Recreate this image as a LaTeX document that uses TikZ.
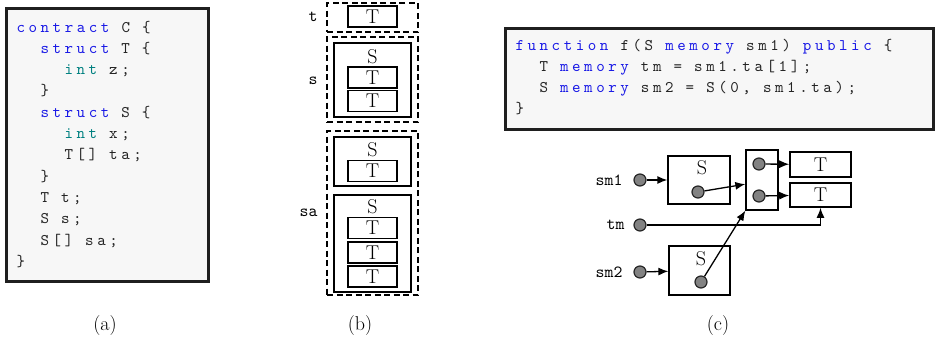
\documentclass[tikz,border=0pt]{standalone}
\usepackage{fontspec}
\usetikzlibrary{arrows.meta}
\newfontfamily\codefont{lmmono10-regular.otf}[LetterSpace=22]
\newfontfamily\lblfont{lmmono10-regular.otf}
\definecolor{kwblue}{RGB}{25,25,230}
\definecolor{tyteal}{RGB}{0,128,128}
\definecolor{codegray}{RGB}{35,35,35}
\definecolor{codebg}{RGB}{247,247,247}
\definecolor{dotgray}{RGB}{130,130,130}
\newcommand{\kw}[1]{\textcolor{kwblue}{#1}}
\newcommand{\ty}[1]{\textcolor{tyteal}{#1}}
\begin{document}
\begin{tikzpicture}[x=1pt,y=-1pt,line width=1pt,
  codebox/.style={draw=black!88,line width=2.6pt,fill=codebg},
  codeline/.style={anchor=base west,inner sep=0pt,text=codegray,font={\fontsize{16.2}{18}\codefont}},
  lbl/.style={inner sep=0pt,font={\fontsize{17}{19}\lblfont}},
  rmtext/.style={inner sep=0pt,font={\fontsize{20}{22}\selectfont}},
  grp/.style={draw,line width=1.8pt,dash pattern=on 6pt off 3.5pt,inner sep=0pt},
  sbox/.style={draw,line width=1.3pt,inner sep=0pt},
  tbox/.style={draw,line width=1.6pt,inner sep=0pt,minimum width=49,minimum height=21,font={\fontsize{20}{22}\selectfont}},
  dot/.style={circle,draw=black!85,fill=dotgray,line width=1.2pt,minimum size=12,inner sep=0pt},
  ptr/.style={-{Latex[length=10pt,width=8pt]},line width=1.3pt}]
\useasboundingbox (0,0) rectangle (935,341);
% (a) le contrat
\node[codebox,minimum width=202,minimum height=273,anchor=north west] (boxa) at (5,7) {};
\node[codeline] (a1) at (16,32) {\kw{contract} C \{};
\node[codeline] (a2) at (40,53.3) {\kw{struct} T \{};
\node[codeline] (a3) at (64,74.6) {\ty{int} z;};
\node[codeline] (a4) at (40,95.9) {\}};
\node[codeline] (a5) at (40,117.2) {\kw{struct} S \{};
\node[codeline] (a6) at (64,138.5) {\ty{int} x;};
\node[codeline] (a7) at (64,159.8) {T[] ta;};
\node[codeline] (a8) at (40,181.1) {\}};
\node[codeline] (a9) at (40,202.4) {T t;};
\node[codeline] (a10) at (40,223.7) {S s;};
\node[codeline] (a11) at (40,245) {S[] sa;};
\node[codeline] (a12) at (16,266.3) {\}};
% (b) disposition en stockage
\node[grp,minimum width=91,minimum height=29] (gt) at (372.5,17.5) {};
\node[tbox] (tT) at (372.5,16.5) {T};
\node[lbl,anchor=east] (lt) at (318,17) {t};
\node[grp,minimum width=91,minimum height=85] (gs) at (372.5,79.5) {};
\node[sbox,minimum width=77,minimum height=74] (sS) at (372.5,80) {};
\node[rmtext] (sSl) at (372.5,57) {S};
\node[tbox] (sT1) at (372.5,77.5) {T};
\node[tbox] (sT2) at (372.5,101) {T};
\node[lbl,anchor=east] (ls) at (318,81) {s};
\node[grp,minimum width=91,minimum height=164] (gsa) at (372.5,213) {};
\node[sbox,minimum width=77,minimum height=49] (saS1) at (372.5,161.5) {};
\node[rmtext] (saS1l) at (372.5,150) {S};
\node[tbox] (saS1T) at (372.5,171) {T};
\node[sbox,minimum width=77,minimum height=97] (saS2) at (372.5,243.5) {};
\node[rmtext] (saS2l) at (372.5,207) {S};
\foreach \y [count=\i] in {228,252.5,276.5}
  \node[tbox] (saT\i) at (372.5,\y) {T};
\node[lbl,anchor=east] (lsa) at (318,213) {sa};
% (c) la fonction et la memoire
\node[codebox,minimum width=428,minimum height=101,anchor=north west] (boxc) at (504,27) {};
\node[codeline] (c1) at (515,50) {\kw{function} f(S \kw{memory} sm1) \kw{public} \{};
\node[codeline] (c2) at (539,71.3) {T \kw{memory} tm = sm1.ta[1];};
\node[codeline] (c3) at (539,92.6) {S \kw{memory} sm2 = S(0, sm1.ta);};
\node[codeline] (c4) at (515,113.9) {\}};
\node[lbl,anchor=east] (lsm1) at (623,180) {sm1};
\node[lbl,anchor=east] (ltm) at (625,225) {tm};
\node[lbl,anchor=east] (lsm2) at (623,272) {sm2};
\node[dot] (sm1d) at (640,180) {};
\node[dot] (tmd) at (640,225) {};
\node[dot] (sm2d) at (640,272) {};
\node[sbox,minimum width=62,minimum height=48] (s1) at (699,180) {};
\node[rmtext] (s1l) at (702,168) {S};
\node[dot] (s1d) at (698,192) {};
\node[sbox,minimum width=61,minimum height=49] (s2) at (699.5,270.5) {};
\node[rmtext] (s2l) at (701,259) {S};
\node[dot] (s2d) at (701,282) {};
\node[sbox,minimum width=32,minimum height=60] (arr) at (762,180) {};
\node[dot] (ad1) at (759,164) {};
\node[dot] (ad2) at (759,196) {};
\node[tbox,minimum width=61,minimum height=25] (t1) at (820.5,164.5) {T};
\node[tbox,minimum width=61,minimum height=24] (t2) at (820.5,195) {T};
\draw[ptr] (sm1d) -- (s1);
\draw[ptr] (sm2d) -- (s2);
\draw[ptr] (s1d) -- (arr.194);
\draw[ptr] (s2d) -- (arr.south west);
\draw[ptr] (ad1) -- (t1);
\draw[ptr] (ad2) -- (t2);
\draw[ptr] (tmd) -| (t2);
% legendes
\node[rmtext] (capa) at (105,326) {(a)};
\node[rmtext] (capb) at (360,326) {(b)};
\node[rmtext] (capc) at (718,326) {(c)};
\end{tikzpicture}
\end{document}
